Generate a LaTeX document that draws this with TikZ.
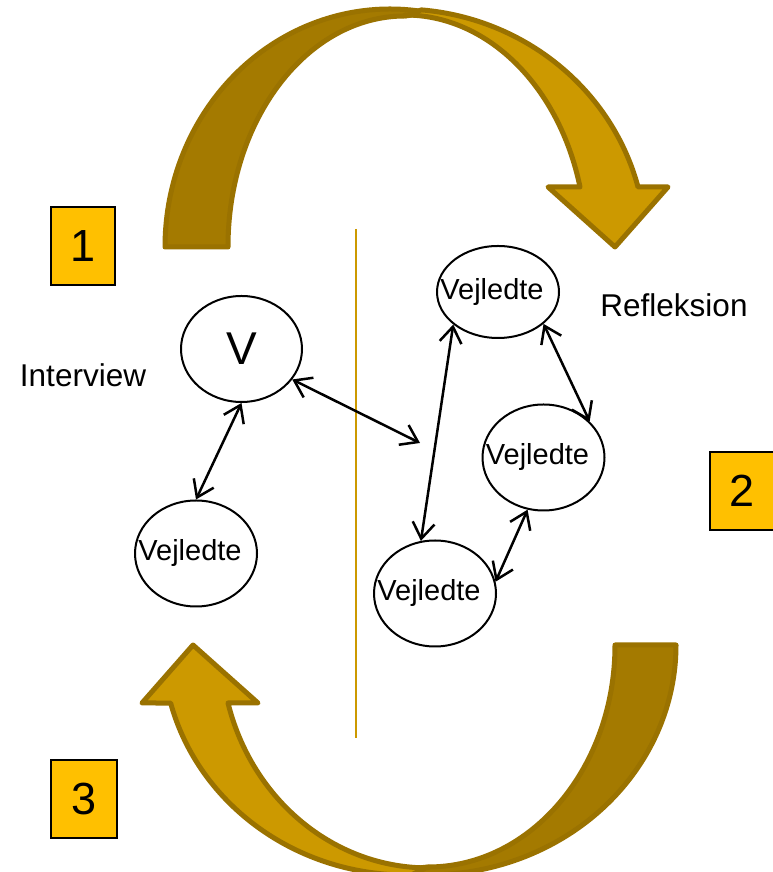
\documentclass[tikz,border=0pt]{standalone}
\usepackage{fontspec}
\setmainfont{Liberation Sans}
\usetikzlibrary{shapes.geometric,arrows.meta}
\definecolor{arrowdark}{HTML}{A47A00}
\definecolor{arrowlight}{HTML}{CC9900}
\definecolor{arrowline}{HTML}{9A7200}
\definecolor{boxfill}{HTML}{FFC000}
\tikzset{person/.style={
    ellipse, draw, line width=2pt, minimum width=122pt, minimum height=106pt,
    inner sep=0pt, font=\fontsize{29}{34}\selectfont},
  stepbox/.style={
    draw, line width=1.8pt, fill=boxfill, minimum width=64pt, minimum height=78pt,
    inner sep=0pt, font=\fontsize{45}{50}\selectfont},
  bigarrow/.style={draw=arrowline, line width=5pt, line join=round},
  link/.style={line width=2.5pt,
    {Straight Barb[length=16pt,width=22pt]}-{Straight Barb[length=16pt,width=22pt]}}
}
\newcommand{\vejledte}{\makebox[0pt]{\raisebox{-2pt}{Vejledte}\hspace*{12pt}}}

\begin{document}
\begin{tikzpicture}[x=1pt,y=1pt]
        \useasboundingbox (0,0) rectangle (772,872);
        %top arrow
        \draw[bigarrow, fill=arrowdark] (165,625)
         arc[start angle=180, end angle=80, x radius=225, y radius=238]
         -- (405,856)
         arc[start angle=90, end angle=180, x radius=177, y radius=231] -- cycle;
        \draw[bigarrow, fill=arrowlight] (405,856) -- (421.4,862.1)
         arc[start angle=85, end angle=14.6, x radius=246, y radius=238]
         -- (668,685) -- (615,625) -- (548,685) -- (580,685)
         arc[start angle=14.8, end angle=90, x radius=181, y radius=231] -- cycle;
        
        %bottom arrow
        \draw[bigarrow, fill=arrowdark] (676,227)
         arc[start angle=0, end angle=-100, x radius=248, y radius=230]
         -- (428,5)
         arc[start angle=-90, end angle=0, x radius=187, y radius=222] -- cycle;
        \draw[bigarrow, fill=arrowlight] (428,5) -- (411,-3)
         arc[start angle=-89, end angle=-165.4, x radius=244, y radius=230]
         -- (142,169) -- (193,227) -- (258,169) -- (228,169)
         arc[start angle=194.9, end angle=270, x radius=207, y radius=222] -- cycle;
        
        %divider
        \draw[arrowlight, line width=2pt] (356,643) -- (356,134);
        
        %steps
        \node[stepbox](one) at (83,626){1};
        \node[stepbox](two) at (742,381){2};
        \node[stepbox, minimum width=66pt](three) at (84,73){3};
        \node[font=\fontsize{31.5}{36}\selectfont](interview) at (83,497){Interview};
        \node[font=\fontsize{31.5}{36}\selectfont](refleksion) at (674,567){Refleksion};
        
        %Interview
        \node[person, minimum width=121pt, font=\fontsize{46}{50}\selectfont](v) at (241.5,523){V};
        \node[person](vl) at (196,318.5){\vejledte};
        \coordinate(free) at (420,429);
        \draw[link] (v.south) -- (vl.north);
        \draw[link] (v.-31) -- (free);
        
        %Refleksion
        \node[person, minimum height=92pt](vt) at (498,580){\vejledte};
        \node[person](vm) at (543.5,414.5){\vejledte};
        \node[person](vb) at (435,278.5){\vejledte};
        \draw[link] (vt.216) -- (vb.105);
        \draw[link] (vt.-35) -- (vm.38);
        \draw[link] (vm.-107) -- (vb.11);
        
\end{tikzpicture}
\end{document}
